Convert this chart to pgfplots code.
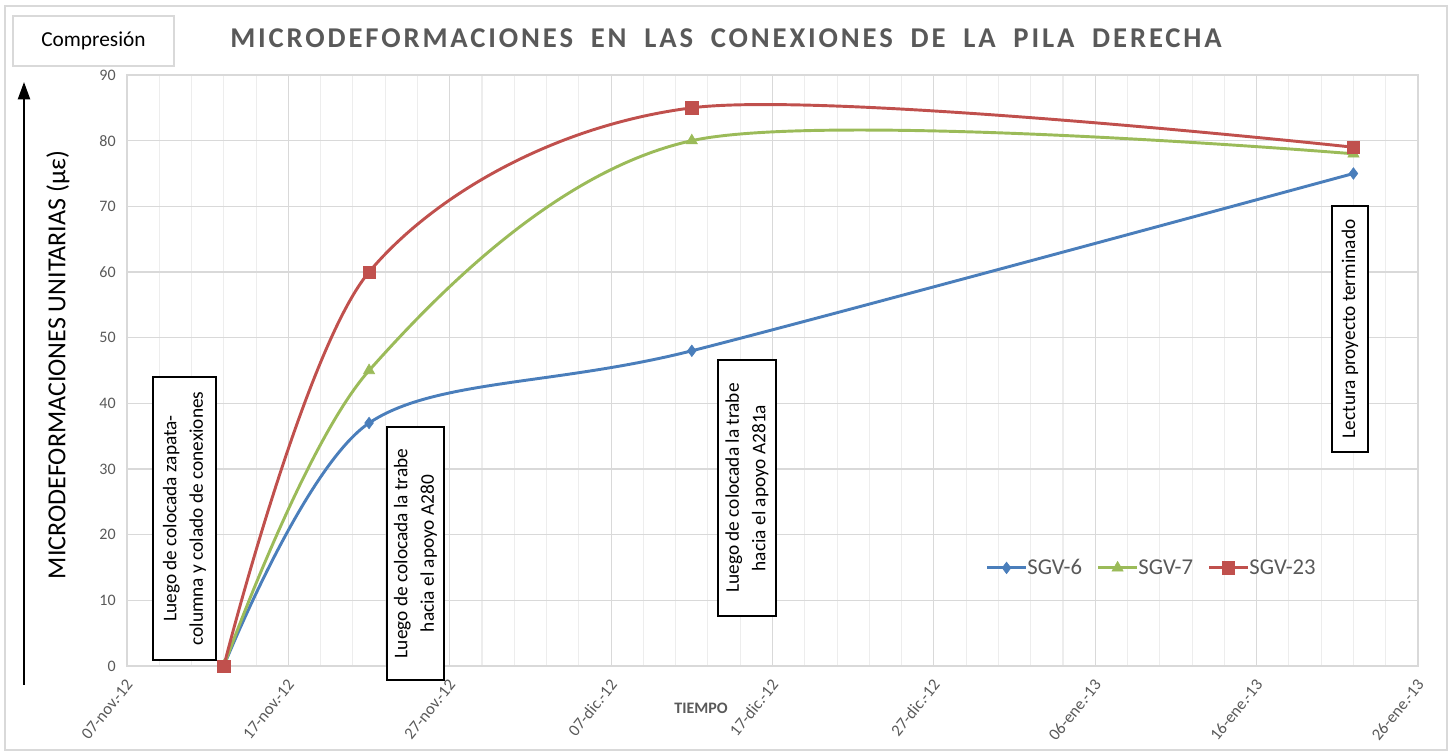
\documentclass[border=0pt]{standalone}
\usepackage{pgfplots}
\pgfplotsset{compat=1.18}
\usepackage{fontspec}
\setmainfont{Carlito}
\newfontfamily\titlefont[LetterSpace=10,WordSpace=1.9]{Carlito}
\usetikzlibrary{arrows.meta}
\definecolor{c6}{HTML}{4A7EBB}
\definecolor{c7}{HTML}{9BBB59}
\definecolor{c23}{HTML}{C0504D}
\definecolor{txtgrey}{HTML}{595959}
\definecolor{gridgrey}{HTML}{D9D9D9}
\definecolor{minorgrey}{HTML}{EDEDED}

\pgfplotstableread{
d v
6 0
15 37
35 48
76 75
}\sgvsix
\pgfplotstableread{
d v
6 0
15 45
35 80
76 78
}\sgvseven
\pgfplotstableread{
d v
6 0
15 60
35 85
76 79
}\sgvtwentythree

\begin{document}
\begin{tikzpicture}[x=0.75pt,y=0.75pt]
\path (0,0) rectangle (1450,753);
\draw[gridgrey, line width=1.2pt] (5,3) rectangle (1447,747);
\begin{axis}[
  at={(95.25pt,65.25pt)}, anchor=south west,
  scale only axis, width=968.25pt, height=443.25pt,
  xmin=0, xmax=80, ymin=0, ymax=90,
  xtick={0,10,...,80},
  xticklabels={07-nov.-12,17-nov.-12,27-nov.-12,07-dic.-12,17-dic.-12,27-dic.-12,06-ene.-13,16-ene.-13,26-ene.-13},
  ytick={0,10,...,90},
  minor x tick num=4,
  grid=both,
  major grid style={gridgrey, line width=0.9pt},
  minor grid style={minorgrey, line width=0.8pt},
  ymajorgrids=true, yminorgrids=false,
  axis line style={gridgrey, line width=1pt},
  major tick length=0pt, minor tick length=0pt,
  tick label style={font=\fontsize{12}{14}\selectfont, text=txtgrey},
  /pgf/number format/assume math mode=true,
  xticklabel style={font=\fontsize{12.5}{14}\selectfont, yshift=-9pt, xshift=4pt, rotate=51, anchor=east},
  yticklabel style={xshift=-5pt},
  clip=false,
  legend columns=3,
  legend style={draw=none, fill=none, at={(0.794,0.166)}, anchor=center,
    font=\fontsize{17}{19}\selectfont, text=txtgrey,
    /tikz/every odd column/.append style={column sep=-2pt},
    /tikz/every even column/.append style={column sep=9pt}},
  legend cell align=left,
  legend image code/.code={\draw[mark repeat=2,mark phase=2] plot coordinates {(0pt,0pt)(14.5pt,0pt)(29pt,0pt)};},
]
\addplot[c6, line width=2.2pt, smooth, tension=0.5, mark=diamond*, mark size=4.3pt, mark options={solid, fill=c6, line width=0.5pt}] table[x=d,y=v] {\sgvsix};
\addlegendentry{SGV-6}
\addplot[c7, line width=2.2pt, smooth, tension=0.5, mark=triangle*, mark size=4.8pt, mark options={solid, fill=c7, line width=0.5pt}] table[x=d,y=v] {\sgvseven};
\addlegendentry{SGV-7}
\addplot[c23, line width=2.2pt, smooth, tension=0.5, mark=square*, mark size=4.6pt, mark options={solid, fill=c23, line width=0.5pt}] table[x=d,y=v] {\sgvtwentythree};
\addlegendentry{SGV-23}
\end{axis}
% title
\node[text=txtgrey, font=\titlefont\bfseries\fontsize{21.5}{24}\selectfont] at (726,715) {MICRODEFORMACIONES EN LAS CONEXIONES DE LA PILA DERECHA};
% compresion box
\node[draw=gridgrey, line width=1.2pt, minimum width=120.75pt, minimum height=37.5pt, inner sep=0pt, font=\fontsize{16}{18}\selectfont] at (93.5,712) {Compresión};
% y label and arrow
\node[rotate=90, font=\fontsize{19.5}{22}\selectfont] at (58,388) {MICRODEFORMACIONES UNITARIAS (µε)};
\draw[line width=1.6pt, -{Triangle[length=13pt, width=9pt]}] (24,68) -- (24,671);
% x label
\node[text=txtgrey, font=\bfseries\fontsize{12}{14}\selectfont] at (701,45) {TIEMPO};
% annotations
\node[draw, fill=white, line width=0.8pt, rotate=90, minimum width=212.25pt, minimum height=47.25pt, inner sep=0pt, align=center, font=\fontsize{14.5}{20}\selectfont] at (184.5,234.5) {Luego de colocada zapata-\\columna y colado de conexiones};
\node[draw, fill=white, line width=0.8pt, rotate=90, minimum width=189.75pt, minimum height=42.75pt, inner sep=0pt, align=center, font=\fontsize{14.5}{20}\selectfont] at (415.5,199.5) {Luego de colocada la trabe\\hacia el apoyo A280};
\node[draw, fill=white, line width=0.8pt, rotate=90, minimum width=192pt, minimum height=43.5pt, inner sep=0pt, align=center, font=\fontsize{14.5}{20}\selectfont] at (747,265) {Luego de colocada la trabe\\hacia el apoyo A281a};
\node[draw, fill=white, line width=0.8pt, rotate=90, minimum width=184.5pt, minimum height=27pt, inner sep=0pt, align=center, font=\fontsize{14.5}{20}\selectfont] at (1350,424) {Lectura proyecto terminado};
\end{tikzpicture}
\end{document}
